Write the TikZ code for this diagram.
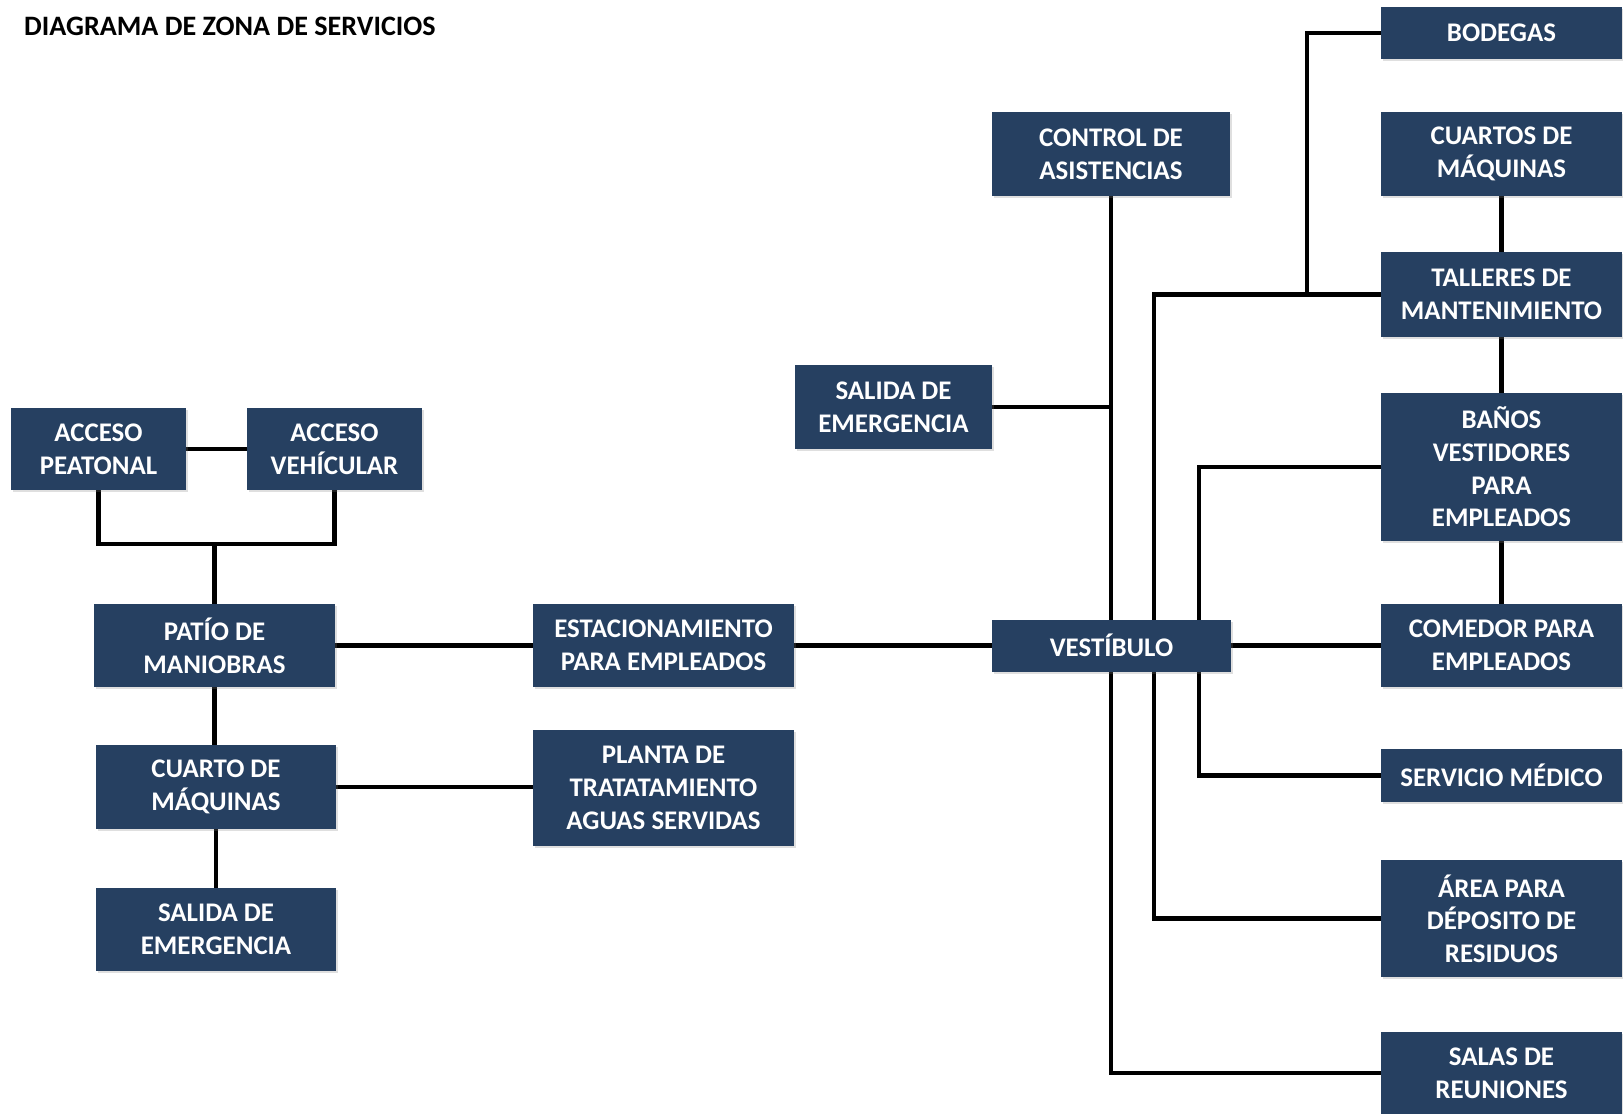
\documentclass[tikz,border=0pt]{standalone}
\usepackage{fontspec}
\setmainfont{Carlito}
\usepackage{xcolor}
\usepackage{tikz}
\usetikzlibrary{positioning, calc, backgrounds, shadows}
\definecolor{zonablue}{RGB}{38, 64, 97}

\begin{document}
\begin{tikzpicture}[
    zona/.style={rectangle, fill=zonablue, text=white, inner sep=0pt, align=center,
        minimum width=4.82cm, minimum height=1.66cm,
        font=\fontsize{15.3}{18.6}\selectfont\bfseries,
        drop shadow={shadow xshift=1pt, shadow yshift=-1.2pt, opacity=0.25}},
    link/.style={line width=2.6pt, black}
]
    \useasboundingbox (0,0) rectangle (32.46,-22.28);

    % Title
    \node[anchor=west, font=\fontsize{16}{19}\selectfont\bfseries] (title) at (0.36,-0.52) {DIAGRAMA DE ZONA DE SERVICIOS};

    % Left group
    \node[zona, minimum width=3.5cm, minimum height=1.64cm] (peatonal) at (1.97,-8.98) {ACCESO\\PEATONAL};
    \node[zona, minimum width=3.5cm, minimum height=1.64cm] (vehicular) at (6.69,-8.98) {ACCESO\\VEHÍCULAR};
    \node[zona] (patio) at (4.29,-12.91) {PATÍO DE\\MANIOBRAS};
    \node[zona, minimum width=4.8cm, minimum height=1.68cm] (cuarto) at (4.32,-15.74) {CUARTO DE\\MÁQUINAS};
    \node[zona, minimum width=4.8cm] (salidaizq) at (4.32,-18.59) {SALIDA DE\\EMERGENCIA};

    % Middle group
    \node[zona, minimum width=5.22cm] (estacionamiento) at (13.27,-12.91) {ESTACIONAMIENTO\\PARA EMPLEADOS};
    \node[zona, minimum width=5.22cm, minimum height=2.32cm] (planta) at (13.27,-15.76) {PLANTA DE\\TRATATAMIENTO\\AGUAS SERVIDAS};
    \node[zona, minimum width=3.94cm, minimum height=1.68cm] (salidacen) at (17.87,-8.14) {SALIDA DE\\EMERGENCIA};
    \node[zona, minimum width=4.76cm, minimum height=1.68cm] (control) at (22.22,-3.08) {CONTROL DE\\ASISTENCIAS};
    \node[zona, minimum width=4.78cm, minimum height=1.04cm] (vestibulo) at (22.23,-12.91) {VESTÍBULO};

    % Right column
    \node[zona, minimum height=1.04cm] (bodegas) at (30.03,-0.66) {BODEGAS};
    \node[zona, minimum height=1.68cm] (cuartos) at (30.03,-3.08) {CUARTOS DE\\MÁQUINAS};
    \node[zona, minimum height=1.70cm] (talleres) at (30.03,-5.89) {TALLERES DE\\MANTENIMIENTO};
    \node[zona, minimum height=2.96cm] (banos) at (30.03,-9.34) {BAÑOS\\VESTIDORES\\PARA\\EMPLEADOS};
    \node[zona] (comedor) at (30.03,-12.91) {COMEDOR PARA\\EMPLEADOS};
    \node[zona, minimum height=1.06cm] (servicio) at (30.03,-15.51) {SERVICIO MÉDICO};
    \node[zona, minimum height=2.34cm] (deposito) at (30.03,-18.37) {ÁREA PARA\\DÉPOSITO DE\\RESIDUOS};
    \node[zona, minimum height=1.64cm] (salas) at (30.03,-21.46) {SALAS DE\\REUNIONES};

    % Bus lines
    \coordinate (accjoin) at (4.29,-10.88);
    \coordinate (busA) at (23.08,0);
    \coordinate (busB) at (23.98,0);
    \coordinate (busC) at (26.14,0);

    % Connections
    \begin{scope}[on background layer]
        \draw[link] (peatonal.east) -- (vehicular.west);
        \draw[link] (peatonal.south) |- (accjoin) -| (vehicular.south);
        \draw[link] (accjoin) -- (patio.north);
        \draw[link] (patio.south) -- (patio.south |- cuarto.north);
        \draw[link] (cuarto) -- (salidaizq);
        \draw[link] (cuarto.east) -- (cuarto.east -| planta.west);
        \draw[link] (patio) -- (estacionamiento);
        \draw[link] (estacionamiento) -- (vestibulo);
        \draw[link] (vestibulo) -- (comedor);
        \draw[link] (control.south) |- (salas.west);
        \draw[link] (salidacen.east) -- (salidacen.east -| control.south);
        \draw[link] (talleres.west) -| (busA |- deposito.west) -- (deposito.west);
        \draw[link] (banos.west) -| (busB |- servicio.west) -- (servicio.west);
        \draw[link] (bodegas.west) -| (busC |- talleres.west);
        \draw[link] (cuartos) -- (talleres);
        \draw[link] (talleres) -- (banos);
        \draw[link] (banos) -- (comedor);
    \end{scope}

\end{tikzpicture}
\end{document}
